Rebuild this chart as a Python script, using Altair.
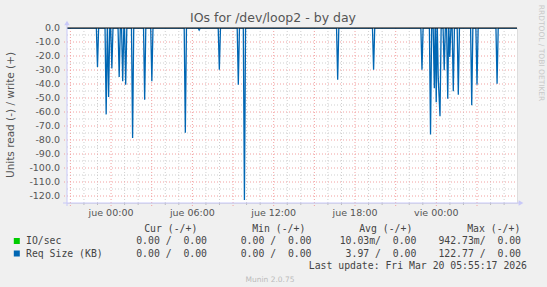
import altair as alt
import pandas as pd

# ---------------- data ----------------
# time in hours relative to "jue 00:00"; Req Size (KB), read side (negative)
spike_hours = [-1.00, -0.36, -0.18, 0.06, 0.60, 0.86, 1.08, 1.59, 2.48, 3.01,
               5.48, 6.50, 7.99, 9.39, 9.84, 16.72, 19.37, 22.94, 23.57, 23.85,
               23.99, 24.14, 24.27, 24.58, 24.84, 24.99, 25.25, 25.62, 26.61,
               27.00, 28.48]
spike_values = [-27.9, -61.7, -49.3, -29.0, -35.0, -38.0, -40.5, -78.6, -51.2, -38.0,
                -74.8, -1.5, -29.8, -40.5, -122.77, -36.9, -29.8, -29.8, -76.0, -43.0,
                -53.0, -36.0, -63.0, -30.2, -50.5, -20.7, -45.2, -47.6, -55.2,
                -40.5, -39.8]

x_label_hours = [0, 6, 12, 18, 24]
x_label_text = ["jue 00:00", "jue 06:00", "jue 12:00", "jue 18:00", "vie 00:00"]
y_ticks = [0, -10, -20, -30, -40, -50, -60, -70, -80, -90, -100, -110, -120]
y_minor = [-5, -15, -25, -35, -45, -55, -65, -75, -85, -95, -105, -115]
x_major = [-3, 0, 3, 6, 9, 12, 15, 18, 21, 24, 27]
x_minor = [-2, -1, 1, 2, 4, 5, 7, 8, 10, 11, 13, 14, 16, 17, 19, 20, 22, 23, 25, 26, 28, 29]

header_texts = ["Cur (-/+)", "Min (-/+)", "Avg (-/+)", "Max (-/+)"]
series_names = ["IO/sec", "Req Size (KB)"]
series_colors = ["#00cc00", "#0066b3"]
io_vals = ["0.00 /  0.00", "0.00 /  0.00", "10.03m/  0.00", "942.73m/  0.00"]
req_vals = ["0.00 /  0.00", "0.00 /  0.00", "3.97 /  0.00", "122.77 /  0.00"]
last_update = "Last update: Fri Mar 20 05:55:17 2026"
title_text = "IOs for /dev/loop2 - by day"
y_title = "Units read (-) / write (+)"
side_text = "RRDTOOL / TOBI OETIKER"
footer = "Munin 2.0.75"

# ---------------- layout ----------------
W, H = 450, 175
X0, Y0 = 67, 28
STEP = 5 / 60.0
XDOM = [-3.25, 29.95]
YDOM = [-125, 0]

xs = alt.Scale(domain=XDOM, nice=False, zero=False)
ys = alt.Scale(domain=YDOM, nice=False, zero=False)

# build line points (spike with neighbouring zero samples)
pts = {}
for t, v in zip(spike_hours, spike_values):
    pts[round(t, 4)] = v
for t in spike_hours:
    for n in (t - STEP, t + STEP):
        if all(abs(n - u) > 0.6 * STEP for u in spike_hours):
            pts.setdefault(round(n, 4), 0.0)
pts.setdefault(XDOM[0], 0.0)
pts.setdefault(XDOM[1], 0.0)
line_df = pd.DataFrame(sorted(pts.items()), columns=["h", "v"])

MONO = "DejaVu Sans Mono"
SANS = "DejaVu Sans"

def XQ(f):
    return alt.X(f, scale=xs, axis=None)

def YQ(f):
    return alt.Y(f, scale=ys, axis=None)

bg = alt.Chart(pd.DataFrame({"a": [0]})).mark_rect(color="white").encode(
    x=alt.value(0), x2=alt.value(W), y=alt.value(0), y2=alt.value(H))

ygrid_minor = alt.Chart(pd.DataFrame({"y": y_minor})).mark_rule(
    color="#cfcfcf", strokeDash=[1, 2], strokeWidth=1).encode(
    y=YQ("y:Q"), x=alt.value(0), x2=alt.value(W))
xgrid_minor = alt.Chart(pd.DataFrame({"x": x_minor})).mark_rule(
    color="#cfcfcf", strokeDash=[1, 2], strokeWidth=1).encode(
    x=XQ("x:Q"), y=alt.value(0), y2=alt.value(H))
ygrid_major = alt.Chart(pd.DataFrame({"y": y_ticks[1:]})).mark_rule(
    color="#f2a0a0", strokeDash=[1, 2], strokeWidth=1).encode(
    y=YQ("y:Q"), x=alt.value(-3), x2=alt.value(W))
xgrid_major = alt.Chart(pd.DataFrame({"x": x_major})).mark_rule(
    color="#f2a0a0", strokeDash=[1, 2], strokeWidth=1).encode(
    x=XQ("x:Q"), y=alt.value(0), y2=alt.value(H + 3))
xtick_minor = alt.Chart(pd.DataFrame({"x": x_minor})).mark_rule(
    color="#bbbbbb", strokeWidth=1).encode(
    x=XQ("x:Q"), y=alt.value(H), y2=alt.value(H + 2))

ylabels = alt.Chart(pd.DataFrame({"y": y_ticks})).mark_text(
    font=SANS, fontSize=9.5, color="#555555", align="right", baseline="middle").encode(
    y=YQ("y:Q"), x=alt.value(-7),
    text=alt.Text("y:Q", format=".1f"))

line = alt.Chart(line_df).mark_line(
    color="#0066b3", strokeWidth=1.3, clip=True, interpolate="linear").encode(
    x=XQ("h:Q"), y=YQ("v:Q"))

zero_line = alt.Chart(pd.DataFrame({"y": [0]})).mark_rule(
    color="#000000", strokeWidth=1).encode(
    y=YQ("y:Q"), x=alt.value(0), x2=alt.value(W))

axis_col = "#c8c8f8"
yaxis_line = alt.Chart(pd.DataFrame({"a": [0]})).mark_rule(color=axis_col, strokeWidth=1).encode(
    x=alt.value(0), y=alt.value(-3), y2=alt.value(H + 3))
xaxis_line = alt.Chart(pd.DataFrame({"a": [0]})).mark_rule(color=axis_col, strokeWidth=1).encode(
    y=alt.value(H), x=alt.value(-4), x2=alt.value(W + 2))
arrow_up = alt.Chart(pd.DataFrame({"a": [0]})).mark_point(
    shape="triangle-up", filled=True, color=axis_col, size=30, opacity=1).encode(
    x=alt.value(0), y=alt.value(-5))
arrow_right = alt.Chart(pd.DataFrame({"a": [0]})).mark_point(
    shape="triangle-right", filled=True, color=axis_col, size=30, opacity=1).encode(
    x=alt.value(W + 4), y=alt.value(H))

xlabels = alt.Chart(pd.DataFrame({"h": x_label_hours, "t": x_label_text})).mark_text(
    font=SANS, fontSize=9.5, color="#555555", baseline="middle", align="center").encode(
    x=XQ("h:Q"), y=alt.value(H + 10), text="t:N")

def txt(s, px, py, align="left", font=MONO, size=9.8, color="#444444", angle=0):
    s = s.replace("  ", "\u00a0\u00a0")
    kw = dict(font=font, fontSize=size, color=color, align=align, baseline="middle")
    if angle:
        kw["angle"] = angle
    return alt.Chart(pd.DataFrame({"t": [s]})).mark_text(**kw).encode(
        x=alt.value(px - X0), y=alt.value(py - Y0), text="t:N")

texts = []
texts.append(txt(title_text, 273, 18, align="center", font=SANS, size=12.5, color="#555555"))
texts.append(txt(y_title, 11, 115, align="center", font=SANS, size=10.5, color="#555555", angle=270))
texts.append(txt(side_text, 541, 53, align="center", font=SANS, size=7.5, color="#c8c8c8", angle=90))

head_right = [197.3, 305.3, 412.3, 520.3]
val_right = [207, 311.5, 416.4, 521]
for s, r in zip(header_texts, head_right):
    texts.append(txt(s, r, 228.5, align="right"))
row_y = [241, 253.5]
for name, vals, ry in zip(series_names, [io_vals, req_vals], row_y):
    texts.append(txt(name, 26, ry, align="left"))
    for s, r in zip(vals, val_right):
        texts.append(txt(s, r, ry, align="right"))
texts.append(txt(last_update, 527, 266, align="right"))
texts.append(txt(footer, 270, 279.5, align="center", font=SANS, size=7.5, color="#bbbbbb"))

squares = [alt.Chart(pd.DataFrame({"c": [c]})).mark_square(
    size=36, opacity=1, filled=True, color=c).encode(
    x=alt.value(16.8 - X0), y=alt.value(ry - Y0)) for c, ry in zip(series_colors, row_y)]

chart = alt.layer(
    bg, ygrid_minor, xgrid_minor, ygrid_major, xgrid_major, xtick_minor,
    line, zero_line, yaxis_line, xaxis_line, arrow_up, arrow_right, xlabels, ylabels,
    *texts, *squares
).properties(
    width=W, height=H,
    autosize=alt.AutoSizeParams(type="none"),
    padding={"left": X0, "top": Y0, "right": 547 - X0 - W, "bottom": 287 - Y0 - H},
    background="#f0f0f0",
).configure_view(stroke=None).configure(locale={"number": {
    "decimal": ".", "thousands": ",", "grouping": [3], "currency": ["$", ""], "minus": "-"}})

chart.save("out.html", embed_options={"renderer": "svg", "actions": False})
